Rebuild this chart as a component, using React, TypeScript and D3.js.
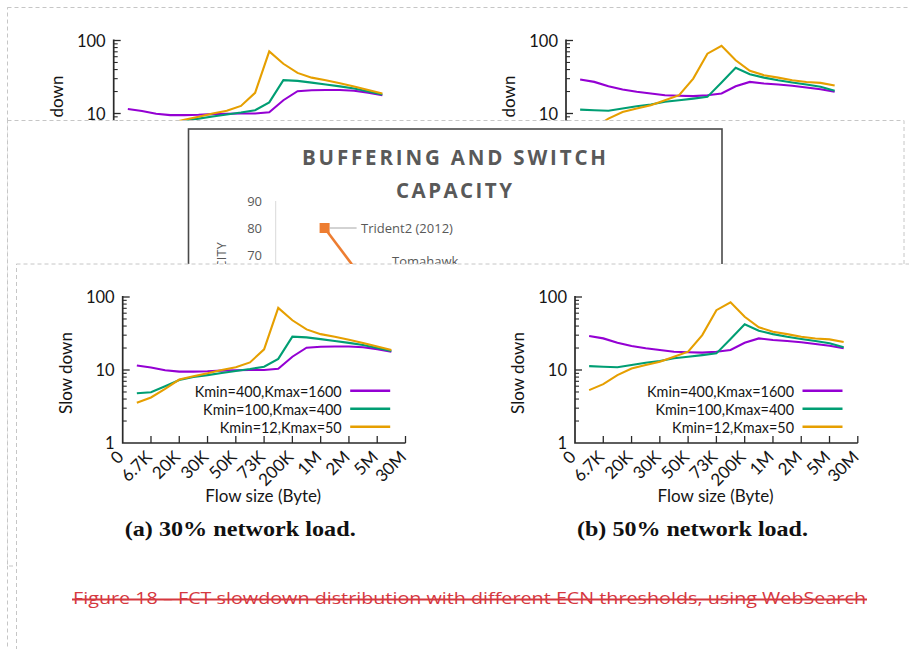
import React from "react";
import * as d3 from "d3";

// ---------- data ----------
const xTickLabels = ["0", "6.7K", "20K", "30K", "50K", "73K", "200K", "1M", "2M", "5M", "30M"];
const pointPositions = [0.5, 1, 1.5, 2, 2.5, 3, 3.5, 4, 4.5, 5, 5.5, 6, 6.5, 7, 7.5, 8, 8.5, 9, 9.5];
const seriesNames = ["Kmin=400,Kmax=1600", "Kmin=100,Kmax=400", "Kmin=12,Kmax=50"];
const seriesColors = ["#9400D3", "#009E73", "#E69F00"];

const load30K400 = [11.5, 10.8, 9.9, 9.5, 9.5, 9.6, 9.8, 9.9, 10, 10, 10.4, 15.2, 20.2, 20.8, 21, 21, 20.5, 19.3, 17.8];
const load30K100 = [4.8, 4.95, 6, 7.3, 8, 8.5, 9.1, 9.7, 10.3, 11.1, 14.2, 28.6, 28, 26.5, 25, 23.5, 22, 20, 18.2];
const load30K12 = [3.55, 4.2, 5.5, 7.4, 8.2, 9.0, 10, 10.9, 12.7, 19.2, 71, 48, 36, 31, 28.5, 26, 23.5, 21, 18.8];

const load50K400 = [29.2, 27.1, 23.6, 21.3, 19.9, 18.8, 17.8, 17.5, 17.3, 17.8, 18.8, 23.6, 27.1, 25.8, 25, 24, 22.7, 21.5, 19.9];
const load50K100 = [11.3, 11.1, 10.9, 11.7, 12.6, 13.3, 14.5, 15.2, 16, 16.9, 26.6, 42.3, 34.5, 31, 28.5, 26.6, 25, 23.2, 20.5];
const load50K12 = [5.3, 6.4, 8.5, 10.5, 11.7, 13, 15.2, 17.8, 30.1, 66, 84.5, 53.5, 38.5, 33.5, 31, 28.5, 27, 26.3, 24.2];

const yMajorTicks = [1, 10, 100];
const yMinorTicks = [2, 3, 4, 5, 6, 7, 8, 9, 20, 30, 40, 50, 60, 70, 80, 90];

const captionA = "(a) 30% network load.";
const captionB = "(b) 50% network load.";
const figureCaption = "Figure 18 \u2013 FCT slowdown distribution with different ECN thresholds, using WebSearch";

// overlapping "buffering" chart (only its top part is visible)
const bufferTitle = ["BUFFERING AND SWITCH", "CAPACITY"];
const switchNames = ["Trident2 (2012)", "Tomahawk"];
const switchYears = [2012, 2014];
const switchRatio = [80, 65];
const capacityTicks = [70, 80, 90];

// ---------- layout ----------
const W = 909;
const H = 649;
const AX_W = 282.8;
const AX_H = 146;
const FONT = "Lato, 'Open Sans', sans-serif";

function SlowdownChart({
  ox,
  oy,
  series,
  caption,
  partial,
}: {
  ox: number;
  oy: number;
  series: number[][];
  caption: string;
  partial?: boolean;
}) {
  const x = d3.scaleLinear().domain([0, 10]).range([ox, ox + AX_W]);
  const y = d3.scaleLog().domain([1, 100]).range([oy, oy - AX_H]);
  const line = d3
    .line<number>()
    .x((_, i) => x(pointPositions[i]))
    .y((d) => y(d));
  return (
    <g fontFamily={FONT} fill="#151515">
      {series.map((s, j) => (
        <path key={j} d={line(s) || ""} fill="none" stroke={seriesColors[j]} strokeWidth={2.1} strokeLinejoin="miter" />
      ))}
      <path d={`M${ox},${y(100) - 1}V${oy}H${ox + AX_W}`} fill="none" stroke="#2a2a2a" strokeWidth={1.7} />
      {yMajorTicks.slice(1).map((v) => (
        <line key={"M" + v} x1={ox} x2={ox + 7} y1={y(v)} y2={y(v)} stroke="#2a2a2a" strokeWidth={1.3} />
      ))}
      {yMinorTicks.map((v) => (
        <line key={"m" + v} x1={ox} x2={ox + 4} y1={y(v)} y2={y(v)} stroke="#2a2a2a" strokeWidth={1.1} />
      ))}
      {(partial ? yMajorTicks.slice(1) : yMajorTicks).map((v) => (
        <text key={"l" + v} x={ox - 8} y={y(v)} dy="0.38em" textAnchor="end" fontSize={16.5}>
          {String(v)}
        </text>
      ))}
      <text transform={`translate(${ox - 51},${oy - 70}) rotate(-90)`} textAnchor="middle" fontSize={17}>
        Slow down
      </text>
      {!partial && (
        <g>
          {xTickLabels.map((_, i) =>
            i === 0 ? null : (
              <line key={"xt" + i} x1={x(i)} x2={x(i)} y1={oy} y2={oy - 7} stroke="#2a2a2a" strokeWidth={1.3} />
            )
          )}
          {xTickLabels.map((lab, i) => (
            <text key={"xl" + i} transform={`translate(${x(i) + 2},${oy + 15}) rotate(-45)`} textAnchor="end" fontSize={17}>
              {lab}
            </text>
          ))}
          {seriesNames.map((n, j) => {
            const ly = oy - 52.3 + j * 18;
            return (
              <g key={"lg" + j}>
                <text x={ox + 219} y={ly + 6} textAnchor="end" fontSize={14.4}>
                  {n}
                </text>
                <line x1={ox + 227.5} x2={ox + 267.5} y1={ly} y2={ly} stroke={seriesColors[j]} strokeWidth={2.4} />
              </g>
            );
          })}
          <text x={ox + 140.5} y={oy + 58.5} textAnchor="middle" fontSize={17}>
            Flow size (Byte)
          </text>
          <text
            x={ox + 117.5}
            y={oy + 93}
            textAnchor="middle"
            fontFamily="'Liberation Serif', 'DejaVu Serif', serif"
            fontWeight="bold"
            fontSize={22}
            fill="#111"
            textLength={231}
            lengthAdjust="spacingAndGlyphs"
          >
            {caption}
          </text>
        </g>
      )}
    </g>
  );
}

function BothCharts({ partial }: { partial?: boolean }) {
  return (
    <g>
      <SlowdownChart ox={122.7} oy={443} series={[load30K400, load30K100, load30K12]} caption={captionA} partial={partial} />
      <SlowdownChart ox={575} oy={443} series={[load50K400, load50K100, load50K12]} caption={captionB} partial={partial} />
    </g>
  );
}

function BufferChart() {
  const y = d3.scaleLinear().domain([0, 90]).range([444, 201]);
  const x = d3.scaleLinear().domain([2012, 2014]).range([324.6, 355]);
  const pts = switchYears.map((yr, i) => [x(yr), y(switchRatio[i])] as [number, number]);
  const line = d3.line();
  const gray = "#595959";
  return (
    <g fontFamily="'Open Sans', sans-serif">
      <rect x={188.5} y={129} width={533.5} height={500} fill="#fff" stroke="#4a4a4a" strokeWidth={1.6} />
      {bufferTitle.map((t, i) => (
        <text
          key={t}
          x={454}
          y={165 + i * 32.7}
          textAnchor="middle"
          fontSize={20.5}
          fontWeight="bold"
          fill={gray}
          textLength={i === 0 ? 304 : 116}
          lengthAdjust="spacing"
        >
          {t}
        </text>
      ))}
      <line x1={275.7} x2={275.7} y1={y(90)} y2={460} stroke="#d9d9d9" strokeWidth={1} />
      {capacityTicks.map((v) => (
        <text key={v} x={262} y={y(v)} dy="0.36em" textAnchor="end" fontSize={13} fill={gray}>
          {String(v)}
        </text>
      ))}
      <text transform="translate(226,242) rotate(-90)" textAnchor="end" fontSize={12.5} fill={gray} letterSpacing={0.3}>
        CAPACITY
      </text>
      <path d={line(pts) || ""} fill="none" stroke="#ED7D31" strokeWidth={2.6} />
      <rect x={pts[0][0] - 5} y={pts[0][1] - 5} width={10} height={10} fill="#ED7D31" />
      <line x1={pts[0][0] + 5} x2={pts[0][0] + 32} y1={pts[0][1]} y2={pts[0][1]} stroke="#a6a6a6" strokeWidth={1} />
      <text x={pts[0][0] + 36.5} y={pts[0][1] + 4.5} fontSize={13} fill={gray}>
        {switchNames[0]}
      </text>
      <text x={pts[1][0] + 37} y={266} fontSize={13} fill={gray}>
        {switchNames[1]}
      </text>
    </g>
  );
}

const dash = { stroke: "#c6c6c6", strokeWidth: 1, strokeDasharray: "4 3", fill: "#fff" };

export default function App() {
  return (
    <svg
      width={W}
      height={H}
      viewBox={`0 0 ${W} ${H}`}
      style={{ position: "absolute", left: 0, top: 0, display: "block", background: "#fff" }}
    >
      {/* layer 1: copy of the figure, shifted up (only its top shows) */}
      <rect x={7.5} y={7.5} width={960} height={700} {...dash} />
      <g transform="translate(-9,-256.5)">
        <BothCharts partial />
      </g>
      {/* layer 2: buffering chart box */}
      <rect x={7.5} y={120.5} width={896.5} height={445.5} {...dash} />
      <BufferChart />
      {/* layer 3: the figure */}
      <rect x={16.5} y={264} width={960} height={500} {...dash} />
      <BothCharts />
      {/* figure caption (struck through) */}
      <text
        x={73}
        y={604}
        fontFamily="'Open Sans', sans-serif"
        fontSize={17}
        fill="#D5383F"
        textLength={793}
        lengthAdjust="spacingAndGlyphs"
      >
        {figureCaption}
      </text>
      <line x1={72} x2={867} y1={599.5} y2={599.5} stroke="#D5383F" strokeWidth={2} />
    </svg>
  );
}
